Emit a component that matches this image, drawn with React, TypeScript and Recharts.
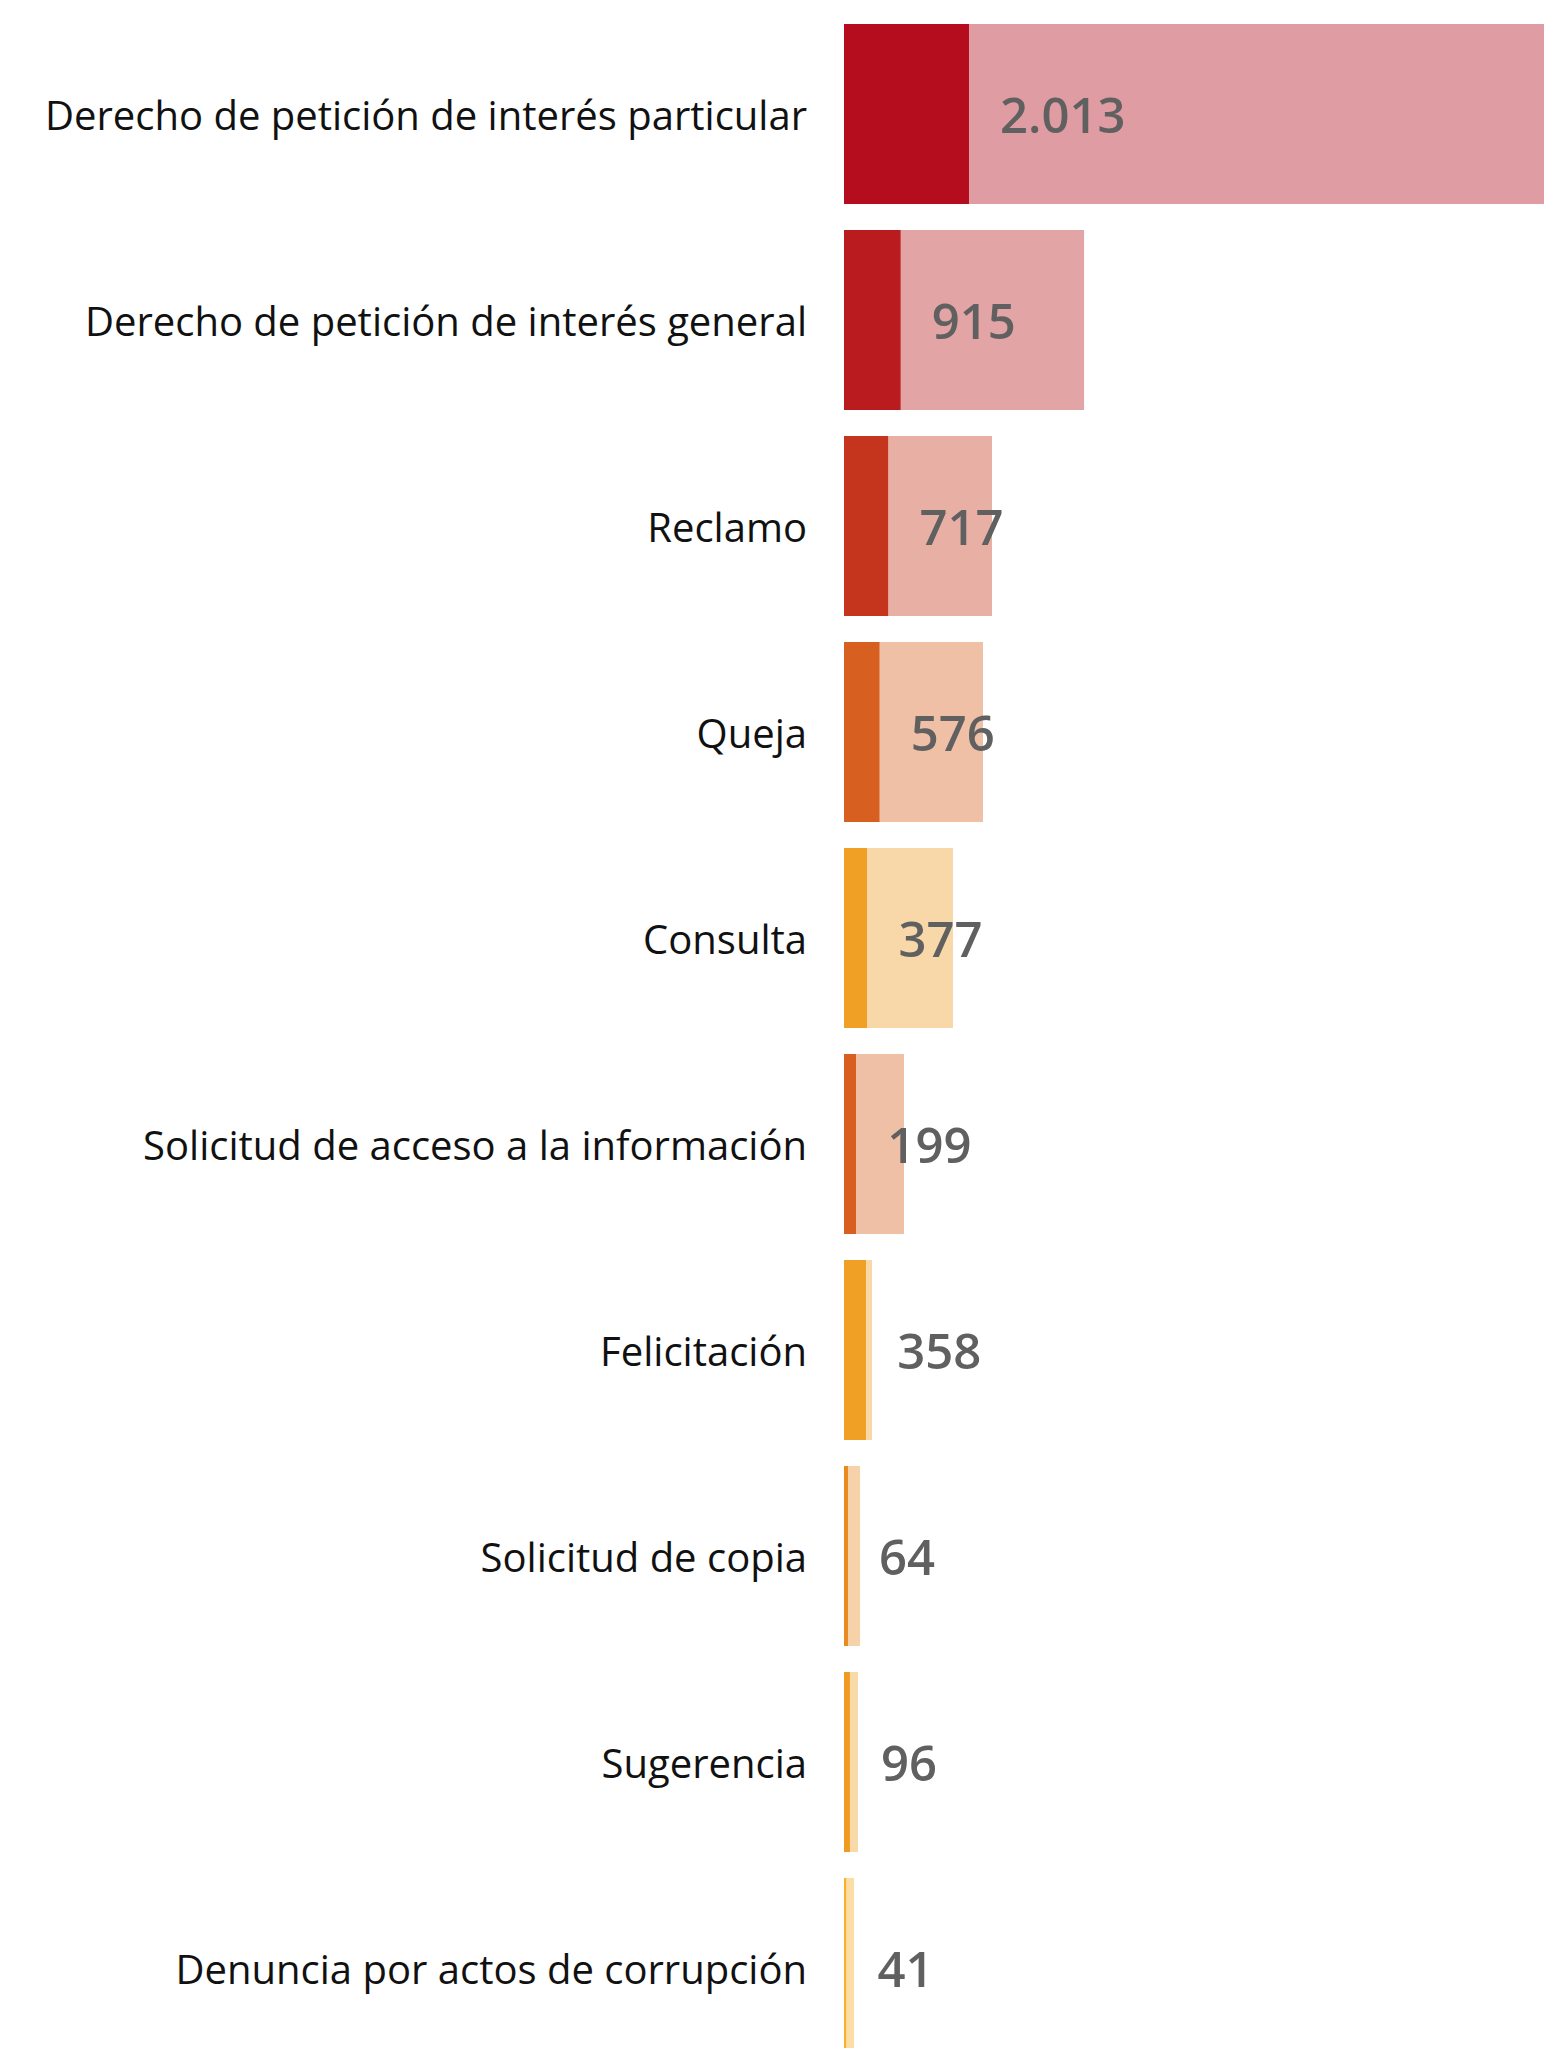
import { BarChart, Bar, XAxis, YAxis, Cell, LabelList } from "recharts"

const categories = [
  "Derecho de petición de interés particular",
  "Derecho de petición de interés general",
  "Reclamo",
  "Queja",
  "Consulta",
  "Solicitud de acceso a la información",
  "Felicitación",
  "Solicitud de copia",
  "Sugerencia",
  "Denuncia por actos de corrupción",
]

// value shown on each row (dark segment)
const counts = [2013, 915, 717, 576, 377, 199, 358, 64, 96, 41]

// full length of the pale bar
const totals = [11500, 3865, 2383, 2238, 1755, 966, 451, 258, 225, 161]

const darkColors = [
  "#b50d1e", "#ba1b1f", "#c5351e", "#d75f20", "#f0a125",
  "#d75f20", "#f0a125", "#e88a20", "#f09a22", "#f8b02a",
]
const lightColors = [
  "#e09ca3", "#e3a4a5", "#e8b0a5", "#efbfa6", "#f8d8a8",
  "#efbfa6", "#f9d8a6", "#f7d1a8", "#f8d9a8", "#fbdda5",
]

const data = categories.map((name, i) => ({
  name,
  count: counts[i],
  rest: totals[i] - counts[i],
}))

const fmt = (v: number) => String(v).replace(/\B(?=(\d{3})+(?!\d))/g, ".")

function ValueLabel(props: any) {
  const { x, y, width, height, value } = props
  return (
    <text
      x={x + width + 31}
      y={y + height / 2}
      dy="0.38em"
      fill="#606060"
      fontSize={49}
      fontWeight={600}
      fontFamily="'Open Sans', sans-serif"
    >
      {fmt(value)}
    </text>
  )
}

export default function App() {
  return (
    <div
      style={{
        position: "absolute",
        left: 0,
        top: 0,
        width: 1544,
        height: 2048,
        overflow: "hidden",
        background: "#fff",
      }}
    >
      <BarChart
        width={1544}
        height={2071}
        data={data}
        layout="vertical"
        margin={{ top: 11, right: 0, bottom: 0, left: 0 }}
        barCategoryGap={13}
      >
        <XAxis type="number" hide domain={[0, 11270]} allowDataOverflow />
        <YAxis
          type="category"
          dataKey="name"
          width={844}
          axisLine={false}
          tickLine={false}
          tickSize={0}
          tickMargin={37}
          interval={0}
          tick={{ fill: "#111", fontSize: 40, dy: 2, fontFamily: "'Open Sans', sans-serif" }}
        />
        <Bar dataKey="count" stackId="a" isAnimationActive={false}>
          {data.map((_, i) => (
            <Cell key={i} fill={darkColors[i]} />
          ))}
          <LabelList dataKey="count" content={<ValueLabel />} />
        </Bar>
        <Bar dataKey="rest" stackId="a" isAnimationActive={false}>
          {data.map((_, i) => (
            <Cell key={i} fill={lightColors[i]} />
          ))}
        </Bar>
      </BarChart>
    </div>
  )
}
